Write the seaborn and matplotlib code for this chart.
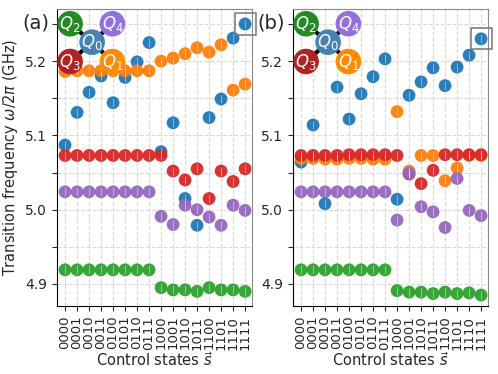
import matplotlib.pyplot as plt
import seaborn as sns
import numpy as np
import pandas as pd

states = ['0000', '0001', '0010', '0011', '0100', '0101', '0110', '0111',
          '1000', '1001', '1010', '1011', '1100', '1101', '1110', '1111']

# panel (a) frequencies in GHz
a_Q0 = [5.087, 5.131, 5.158, 5.180, 5.144, 5.178, 5.199, 5.225,
        5.078, 5.117, 5.015, 4.979, 5.124, 5.149, 5.231, 5.250]
a_Q1 = [5.186, 5.187, 5.187, 5.187, 5.187, 5.187, 5.187, 5.187,
        5.200, 5.204, 5.210, 5.218, 5.212, 5.222, 5.161, 5.169]
a_Q3 = [5.073, 5.073, 5.073, 5.073, 5.073, 5.073, 5.073, 5.073,
        5.073, 5.052, 5.040, 5.055, 5.015, 5.052, 5.038, 5.055]
a_Q4 = [5.024, 5.024, 5.024, 5.024, 5.024, 5.024, 5.024, 5.024,
        4.991, 4.980, 5.006, 5.000, 4.990, 4.979, 5.006, 4.999]
a_Q2 = [4.919, 4.919, 4.919, 4.919, 4.919, 4.919, 4.919, 4.919,
        4.895, 4.892, 4.892, 4.890, 4.895, 4.892, 4.892, 4.890]

# panel (b)
b_Q0 = [5.064, 5.114, 5.008, 5.165, 5.122, 5.156, 5.179, 5.203,
        5.014, 5.154, 5.172, 5.191, 5.167, 5.192, 5.208, 5.230]
b_Q1 = [5.069, 5.069, 5.068, 5.068, 5.069, 5.069, 5.068, 5.068,
        5.132, 5.052, 5.073, 5.073, 5.039, 5.056, 5.073, 5.073]
b_Q3 = [5.073, 5.073, 5.073, 5.073, 5.074, 5.074, 5.074, 5.074,
        5.073, 5.048, 5.035, 5.053, 5.074, 5.074, 5.074, 5.074]
b_Q4 = [5.024, 5.024, 5.024, 5.024, 5.024, 5.024, 5.024, 5.024,
        4.986, 5.049, 5.004, 4.997, 4.976, 5.042, 4.999, 4.992]
b_Q2 = [4.919, 4.919, 4.919, 4.919, 4.919, 4.919, 4.919, 4.919,
        4.891, 4.889, 4.889, 4.887, 4.889, 4.887, 4.888, 4.885]

qubits = ['Q0', 'Q1', 'Q3', 'Q4', 'Q2']   # drawing order
dot_colors = {'Q0': '#1f77b4', 'Q1': '#ff7f0e', 'Q2': '#2ca02c',
              'Q3': '#d62728', 'Q4': '#9467bd'}
node_colors = {'Q0': '#4682b4', 'Q1': '#ff8c00', 'Q2': '#228b22',
               'Q3': '#b22222', 'Q4': '#9370db'}

panels = {'(a)': dict(Q0=a_Q0, Q1=a_Q1, Q2=a_Q2, Q3=a_Q3, Q4=a_Q4),
          '(b)': dict(Q0=b_Q0, Q1=b_Q1, Q2=b_Q2, Q3=b_Q3, Q4=b_Q4)}

sns.set_style('ticks')
plt.rcParams['font.family'] = ['DejaVu Sans']

fig, axs = plt.subplots(1, 2, figsize=(4.98, 3.74), dpi=100)
plt.subplots_adjust(left=0.1145, right=0.98, bottom=0.182, top=0.977, wspace=0.21)

pos = np.arange(len(states))

# diagram node positions in axes fraction
nodes = {'Q2': (0.067, 0.949), 'Q4': (0.284, 0.949), 'Q0': (0.18, 0.887),
         'Q3': (0.067, 0.822), 'Q1': (0.284, 0.822)}

for ax, (label, data) in zip(axs, panels.items()):
    df = pd.concat([pd.DataFrame({'pos': pos, 'freq': data[q], 'qubit': q}) for q in qubits])
    for q in qubits:
        sub = df[df.qubit == q]
        sns.scatterplot(data=sub, x='pos', y='freq', color=dot_colors[q], s=85,
                        edgecolor='none', alpha=0.95, ax=ax, legend=False, zorder=3)
        ax.errorbar(sub.pos, sub.freq, yerr=0.006, fmt='none', ecolor='white',
                    elinewidth=0.5, alpha=0.6, zorder=3.5)
    # box around the last Q0 point
    ax.scatter(pos[-1], data['Q0'][-1], marker='s', s=230, facecolor='none',
               edgecolor='grey', linewidth=1.2, zorder=4, clip_on=False)

    ax.set_xlim(-0.67, 15.58)
    ax.set_ylim(4.8704, 5.2707)
    ax.set_xticks(pos)
    ax.set_xticklabels(states, rotation=90, fontsize=9.5)
    yt = np.round(np.arange(4.9, 5.26, 0.05), 2)
    ax.set_yticks(yt)
    ax.set_yticklabels([f'{v:.1f}' if abs(v * 10 - round(v * 10)) < 1e-6 else '' for v in yt],
                       fontsize=10)
    ax.grid(True, linestyle='--', color='#d9d9d9', linewidth=0.8)
    ax.set_axisbelow(True)
    ax.set_xlabel(r'Control states $\vec{s}$', fontsize=10.5, labelpad=1)
    ax.set_ylabel('')
    ax.spines['left'].set_color('black')
    ax.spines['bottom'].set_color('black')
    ax.spines['top'].set_color('#888888')
    ax.spines['right'].set_color('#888888')
    ax.tick_params(length=3.5, width=0.8)
    ax.text(-0.11, 0.951, label, transform=ax.transAxes, fontsize=14,
            ha='center', va='center')

    # coupler diagram
    cx, cy = nodes['Q0']
    for q in ['Q1', 'Q2', 'Q3', 'Q4']:
        x, y = nodes[q]
        ax.plot([cx, x], [cy, y], color='black', lw=3, transform=ax.transAxes,
                zorder=9, clip_on=False)
    for q, (x, y) in nodes.items():
        ax.scatter(x, y, s=340, color=node_colors[q], transform=ax.transAxes,
                   zorder=10, clip_on=False, edgecolor='none')
        ax.text(x, y, f'${q[0]}_{q[1]}$', transform=ax.transAxes, color='white',
                fontsize=12, ha='center', va='center', zorder=11)

axs[0].set_ylabel(r'Transition frequency $\omega/2\pi$ (GHz)', fontsize=10.5, labelpad=4)

plt.savefig('out.png', dpi=100)
